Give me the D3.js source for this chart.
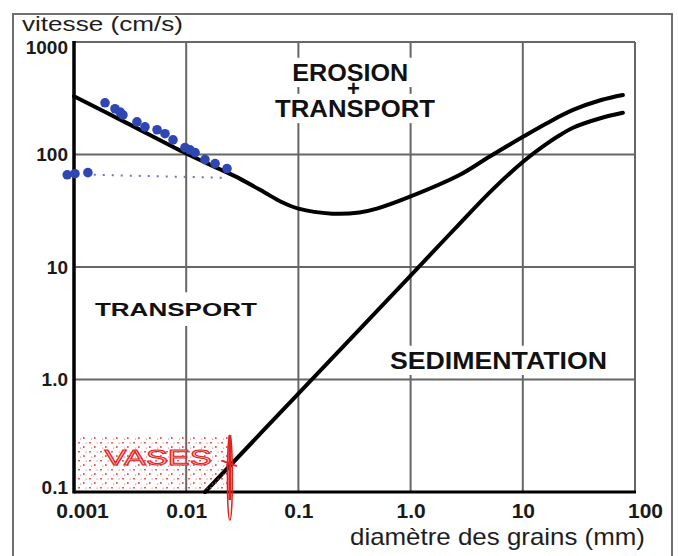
<!DOCTYPE html>
<html>
<head>
<meta charset="utf-8">
<script src="https://cdn.jsdelivr.net/npm/d3@7"></script>
<style>
  body { margin: 0; background: #fff; }
  text { font-family: "Liberation Sans", Arial, sans-serif; }
</style>
</head>
<body>
<div id="container"></div>
<script>
/* CONSTANTS AND GLOBALS */
const width = 678,
  height = 556,
  margin = { top: 42, bottom: 64, left: 74, right: 43 }

/* DATA */
const xTicks = [0.001, 0.01, 0.1, 1, 10, 100]
const xTickLabels = ["0.001", "0.01", "0.1", "1.0", "10", "100"]
const yTicks = [0.1, 1, 10, 100, 1000]
const yTickLabels = ["0.1", "1.0", "10", "100", "1000"]

// erosion curve (upper)
const erosionD = [0.001, 0.003, 0.01, 0.02, 0.03, 0.05, 0.07, 0.1, 0.2, 0.35, 0.5, 0.95, 2.75, 4.9, 10.3, 16.4, 28, 50, 78]
const erosionV = [330, 189, 102, 74, 61, 46, 38, 33, 29.8, 30.5, 33, 41.5, 66, 94, 146, 190, 249, 305, 338]

// sedimentation curve (lower)
const sedD = [0.0147, 0.1, 1, 2.6, 5.4, 10.3, 16.4, 21.5, 28, 50, 78]
const sedV = [0.1, 0.75, 8.4, 23, 49, 88, 125, 149, 173, 211, 235]

// blue measurements
const blueD = [0.00189, 0.00232, 0.00257, 0.00273, 0.00364, 0.00429, 0.0055, 0.00647, 0.00763, 0.00975, 0.0108, 0.012, 0.0147, 0.0181, 0.0231]
const blueV = [288, 255, 239, 225, 195, 176, 166, 153, 135, 115, 110, 104, 90, 83, 75]
const lowD = [0.00087, 0.00102, 0.00133]
const lowV = [66, 67.5, 69]
const guideD = [0.0015, 0.023]
const guideV = [66, 62]

// vases zone
const vasesD = [0.00105, 0.0255]
const vasesV = [0.1, 0.31]
const scribbleD = 0.0245
const scribbleV = [0.32, 0.056]

/* SCALES */
const xScale = d3.scaleLog()
  .domain([0.001, 100])
  .range([margin.left, width - margin.right])

const yScale = d3.scaleLog()
  .domain([0.1, 1000])
  .range([height - margin.bottom, margin.top])

/* SVG */
const svg = d3.select("#container")
  .append("svg")
  .attr("width", width)
  .attr("height", height)

// outer frame (open at the bottom)
svg.append("path")
  .attr("d", `M13,${height + 5} L13,14 L672,14 L672,${height + 5}`)
  .attr("fill", "none")
  .attr("stroke", "#6e6e6e")
  .attr("stroke-width", 2)

// grid
const gridColor = "#666"
svg.selectAll(".vgrid")
  .data(xTicks)
  .join("line")
  .attr("class", "vgrid")
  .attr("x1", d => xScale(d)).attr("x2", d => xScale(d))
  .attr("y1", margin.top).attr("y2", height - margin.bottom)
  .attr("stroke", gridColor)
  .attr("stroke-width", 2)

svg.selectAll(".hgrid")
  .data(yTicks)
  .join("line")
  .attr("class", "hgrid")
  .attr("x1", margin.left).attr("x2", width - margin.right)
  .attr("y1", d => yScale(d)).attr("y2", d => yScale(d))
  .attr("stroke", gridColor)
  .attr("stroke-width", 2)

// region labels, white boxes cut the grid behind them
const labels = [
  { t: "EROSION", x: 0.29, y: 450, size: 24, len: 116, box: true },
  { t: "+", x: 0.31, y: 330, size: 22, len: 0, box: false },
  { t: "TRANSPORT", x: 0.32, y: 215, size: 24, len: 160, box: true },
  { t: "TRANSPORT", x: 0.0081, y: 3.67, size: 19, len: 162, box: true },
  { t: "SEDIMENTATION", x: 6.07, y: 1.24, size: 24, len: 217, box: true }
]

const boxG = svg.append("g")
const labelG = svg.append("g")
labels.forEach(l => {
  const bx = xScale(l.x), by = yScale(l.y)
  const txt = labelG.append("text")
    .attr("x", bx)
    .attr("y", by)
    .attr("text-anchor", "middle")
    .attr("font-weight", "bold")
    .attr("font-size", l.size)
    .attr("fill", "#111")
    .text(l.t)
  if (l.len) txt.attr("textLength", l.len).attr("lengthAdjust", "spacingAndGlyphs")
  if (l.box) {
    const cap = l.size * 0.72, pad = l.size < 20 ? 10 : 6
    const w = txt.node().getComputedTextLength()
    boxG.append("rect")
      .attr("x", bx - w / 2 - 5).attr("y", by - cap - pad)
      .attr("width", w + 10).attr("height", cap + pad * 2)
      .attr("fill", "#fff")
  }
})

/* CURVES */
const lineGen = d3.line()
  .x(d => xScale(d[0]))
  .y(d => yScale(d[1]))
  .curve(d3.curveCatmullRom.alpha(0.5))

svg.append("path")
  .attr("d", lineGen(d3.zip(erosionD, erosionV)))
  .attr("fill", "none")
  .attr("stroke", "#000")
  .attr("stroke-width", 4)
  .attr("stroke-linecap", "round")

svg.append("path")
  .attr("d", lineGen(d3.zip(sedD, sedV)))
  .attr("fill", "none")
  .attr("stroke", "#000")
  .attr("stroke-width", 4)
  .attr("stroke-linecap", "round")

/* AXES */
const yAxisGroup = svg.append("g")
  .attr("transform", `translate(${margin.left},0)`)
  .call(d3.axisLeft(yScale).tickValues(yTicks).tickSize(0).tickPadding(6)
    .tickFormat((d, i) => yTickLabels[i]))
yAxisGroup.select(".domain").remove()
yAxisGroup.selectAll("text")
  .attr("font-size", 19)
  .attr("font-weight", "bold")
  .attr("fill", "#1a1a1a")
  .attr("font-family", "'Liberation Sans', Arial, sans-serif")
  .attr("dy", (d, i) => i === yTicks.length - 1 ? "0.62em" : i === 0 ? "0.1em" : "0.32em")

const xAxisGroup = svg.append("g")
  .attr("transform", `translate(0,${height - margin.bottom})`)
  .call(d3.axisBottom(xScale).tickValues(xTicks).tickSize(0).tickPadding(11)
    .tickFormat((d, i) => xTickLabels[i]))
xAxisGroup.select(".domain").remove()
xAxisGroup.selectAll("text")
  .attr("font-size", 21)
  .attr("font-weight", "bold")
  .attr("fill", "#1a1a1a")
  .attr("font-family", "'Liberation Sans', Arial, sans-serif")
  .attr("dx", (d, i) => i === 0 ? 8 : i === xTicks.length - 1 ? 10 : 0)

// thick left and bottom axis lines
svg.append("line")
  .attr("x1", margin.left).attr("x2", margin.left)
  .attr("y1", margin.top - 1).attr("y2", height - margin.bottom + 1.5)
  .attr("stroke", "#000").attr("stroke-width", 3.5)
svg.append("line")
  .attr("x1", margin.left).attr("x2", width - margin.right + 1)
  .attr("y1", height - margin.bottom).attr("y2", height - margin.bottom)
  .attr("stroke", "#000").attr("stroke-width", 3)

// axis titles
svg.append("text")
  .attr("x", 22).attr("y", 31)
  .attr("font-size", 21)
  .attr("fill", "#1e1e1e")
  .attr("textLength", 161).attr("lengthAdjust", "spacingAndGlyphs")
  .text("vitesse (cm/s)")

svg.append("text")
  .attr("x", 350).attr("y", 545)
  .attr("font-size", 24)
  .attr("fill", "#1e1e1e")
  .attr("textLength", 295).attr("lengthAdjust", "spacingAndGlyphs")
  .text("diamètre des grains (mm)")

/* BLUE MEASUREMENTS */
svg.append("path")
  .attr("d", d3.line().x(d => xScale(d[0])).y(d => yScale(d[1]))(d3.zip(guideD, guideV)))
  .attr("stroke", "#6b74c4")
  .attr("stroke-width", 2)
  .attr("stroke-dasharray", "2,7")
  .attr("fill", "none")

svg.selectAll(".blue")
  .data(d3.zip(blueD.concat(lowD), blueV.concat(lowV)))
  .join("circle")
  .attr("class", "blue")
  .attr("cx", d => xScale(d[0]))
  .attr("cy", d => yScale(d[1]))
  .attr("r", 4.8)
  .attr("fill", "#2f47b3")

/* VASES ZONE */
const defs = svg.append("defs")
const pat = defs.append("pattern")
  .attr("id", "speckle")
  .attr("patternUnits", "userSpaceOnUse")
  .attr("width", 11).attr("height", 9)
pat.append("rect").attr("x", 1).attr("y", 1).attr("width", 2).attr("height", 1.5).attr("fill", "#e5312f")
pat.append("rect").attr("x", 6).attr("y", 5).attr("width", 1.6).attr("height", 2).attr("fill", "#e5312f")
pat.append("rect").attr("x", 8.5).attr("y", 1.5).attr("width", 1.2).attr("height", 1.2).attr("fill", "#f07070")
pat.append("rect").attr("x", 3).attr("y", 6.5).attr("width", 1.2).attr("height", 1.2).attr("fill", "#f07070")

svg.append("rect")
  .attr("x", xScale(vasesD[0]))
  .attr("y", yScale(vasesV[1]))
  .attr("width", xScale(vasesD[1]) - xScale(vasesD[0]))
  .attr("height", yScale(vasesV[0]) - yScale(vasesV[1]) - 2)
  .attr("fill", "url(#speckle)")
  .attr("opacity", 0.8)

svg.append("text")
  .attr("x", (xScale(vasesD[0]) + xScale(vasesD[1])) / 2 + 4)
  .attr("y", yScale(0.175))
  .attr("text-anchor", "middle")
  .attr("font-size", 22)
  .attr("textLength", 107).attr("lengthAdjust", "spacingAndGlyphs")
  .attr("fill", "#f8c4c4")
  .attr("stroke", "#e0231f")
  .attr("stroke-width", 1)
  .text("VASES")

const sx = xScale(scribbleD)
svg.append("ellipse")
  .attr("cx", sx)
  .attr("cy", (yScale(scribbleV[0]) + yScale(scribbleV[1])) / 2)
  .attr("rx", 2.5)
  .attr("ry", (yScale(scribbleV[1]) - yScale(scribbleV[0])) / 2)
  .attr("fill", "none")
  .attr("stroke", "#e0231f")
  .attr("stroke-width", 1.4)
svg.append("line")
  .attr("x1", sx).attr("x2", sx)
  .attr("y1", yScale(scribbleV[0])).attr("y2", yScale(0.1) + 8)
  .attr("stroke", "#e0231f")
  .attr("stroke-width", 3)
svg.append("line")
  .attr("x1", sx - 8).attr("x2", sx + 7)
  .attr("y1", yScale(0.19)).attr("y2", yScale(0.17))
  .attr("stroke", "#e0231f")
  .attr("stroke-width", 2)
</script>
</body>
</html>
